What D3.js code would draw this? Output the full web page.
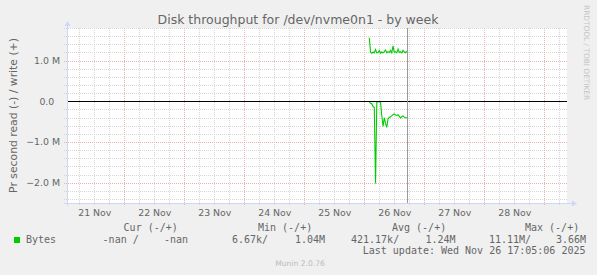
<!DOCTYPE html>
<html>
<head>
<meta charset="utf-8">
<script src="https://cdn.jsdelivr.net/npm/d3@7"></script>
<style>
  body { margin: 0; background: #f0f0f0; }
  svg { display: block; }
  text { fill: #666666; font-family: "DejaVu Sans", sans-serif; }
  .mono { font-family: "DejaVu Sans Mono", monospace; font-size: 10px; }
  .grid-minor { stroke: #d6d6d6; stroke-dasharray: 1,1; shape-rendering: crispEdges; }
  .grid-major { stroke: #ecb2b2; stroke-dasharray: 1,1; shape-rendering: crispEdges; }
  .axis-line { stroke: #cfd6f8; shape-rendering: crispEdges; }
  .series { fill: none; stroke: #00cc00; stroke-width: 1.1; }
</style>
</head>
<body>
<svg id="chart"></svg>
<script>
// DATA
const chartTitle = "Disk throughput for /dev/nvme0n1 - by week";
const yLabel = "Pr second read (-) / write (+)";
const rangeStart = Date.UTC(2025, 10, 21, 1, 5);
const rangeEnd = Date.UTC(2025, 10, 29, 9, 5);
const lastUpdate = Date.UTC(2025, 10, 26, 17, 5, 6);
const sampleStart = Date.UTC(2025, 10, 26, 2, 0);
const sampleStepMinutes = 30;

// bytes per second, one value per 30 minutes
const writeValues = [
  1.56e6, 1.20e6, 1.18e6, 1.21e6, 1.19e6, 1.27e6, 1.19e6, 1.20e6, 1.25e6, 1.18e6,
  1.21e6, 1.19e6, 1.22e6, 1.26e6, 1.19e6, 1.22e6, 1.20e6, 1.25e6, 1.19e6, 1.36e6,
  1.20e6, 1.22e6, 1.19e6, 1.28e6, 1.20e6, 1.22e6, 1.19e6, 1.25e6, 1.21e6, 1.19e6,
  1.23e6
];
const readValues = [
  0.02e6, 0.05e6, 0.06e6, 0.13e6, 0.15e6, 2.02e6, 0.03e6, 0.01e6, 0.01e6, 0.03e6,
  0.35e6, 0.62e6, 0.40e6, 0.55e6, 0.64e6, 0.43e6, 0.40e6, 0.38e6, 0.36e6, 0.33e6,
  0.31e6, 0.34e6, 0.35e6, 0.33e6, 0.37e6, 0.41e6, 0.38e6, 0.36e6, 0.39e6, 0.41e6,
  0.40e6
];

const yTickValues = [-2e6, -1e6, 0, 1e6];
const legendHeaders = ["Cur (-/+)", "Min (-/+)", "Avg (-/+)", "Max (-/+)"];
const legendSeries = "Bytes";
const legendValues = ["-nan /", "-nan", "6.67k/", "1.04M", "421.17k/", "1.24M", "11.11M/", "3.66M"];
const lastUpdateText = "Last update: Wed Nov 26 17:05:06 2025";
const versionText = "Munin 2.0.76";
const watermarkText = "RRDTOOL / TOBI OETIKER";

// GLOBAL DECLARATIONS
let svg;
let plot;
let x;
let y;
const width = 597;
const height = 275;
const plotBox = { left: 67, right: 567, top: 28, bottom: 203 };

setupPage();
drawGrid();
drawSeries();
drawAxes();
drawLegend();

function setupPage(){
  svg = d3.select("#chart")
    .attr("width", width)
    .attr("height", height);

  svg.append("rect")
    .attr("width", width)
    .attr("height", height)
    .attr("fill", "#f0f0f0");

  x = d3.scaleUtc()
    .domain([rangeStart, rangeEnd])
    .range([plotBox.left, plotBox.right]);

  y = d3.scaleLinear()
    .domain([-2.5e6, 1.8e6])
    .range([plotBox.bottom, plotBox.top]);

  svg.append("rect")
    .attr("x", plotBox.left)
    .attr("y", plotBox.top)
    .attr("width", plotBox.right - plotBox.left)
    .attr("height", plotBox.bottom - plotBox.top)
    .attr("fill", "#ffffff");

  plot = svg.append("g");

  svg.append("text")
    .attr("x", 298)
    .attr("y", 24)
    .attr("text-anchor", "middle")
    .style("font-size", "12.5px")
    .text(chartTitle);

  svg.append("text")
    .attr("transform", `translate(17,${(plotBox.top + plotBox.bottom) / 2}) rotate(-90)`)
    .attr("text-anchor", "middle")
    .style("font-size", "10.8px")
    .text(yLabel);

  svg.append("text")
    .attr("transform", "translate(584,5) rotate(90)")
    .style("font-size", "7.4px")
    .style("fill", "#c4c4c4")
    .text(watermarkText);
}

function drawGrid(){
  // vertical: every 6 hours grey, every midnight red
  const sixHours = d3.utcHour.every(6).range(rangeStart, rangeEnd)
    .filter(t => t.getUTCHours() !== 0);
  const midnights = d3.utcDay.range(rangeStart, rangeEnd);

  plot.selectAll(".vminor").data(sixHours).enter()
    .append("line")
    .attr("class", "grid-minor")
    .attr("x1", d => Math.round(x(d)) + 0.5)
    .attr("x2", d => Math.round(x(d)) + 0.5)
    .attr("y1", plotBox.top)
    .attr("y2", plotBox.bottom + 2);

  // horizontal: every 0.2 M grey, every 1 M red
  const minorY = y.ticks(20).filter(v => v % 1e6 !== 0);

  plot.selectAll(".hminor").data(minorY).enter()
    .append("line")
    .attr("class", "grid-minor")
    .attr("x1", plotBox.left - 3)
    .attr("x2", plotBox.right)
    .attr("y1", d => Math.round(y(d)) + 0.5)
    .attr("y2", d => Math.round(y(d)) + 0.5);

  plot.selectAll(".vmajor").data(midnights).enter()
    .append("line")
    .attr("class", "grid-major")
    .attr("x1", d => Math.round(x(d)) + 0.5)
    .attr("x2", d => Math.round(x(d)) + 0.5)
    .attr("y1", plotBox.top)
    .attr("y2", plotBox.bottom + 3);

  plot.selectAll(".hmajor").data(yTickValues.filter(v => v !== 0)).enter()
    .append("line")
    .attr("class", "grid-major")
    .attr("x1", plotBox.left - 3)
    .attr("x2", plotBox.right)
    .attr("y1", d => Math.round(y(d)) + 0.5)
    .attr("y2", d => Math.round(y(d)) + 0.5);
}

function drawSeries(){
  const sampleTime = i => new Date(sampleStart + i * sampleStepMinutes * 60000);

  const line = d3.line()
    .x((d, i) => x(sampleTime(i)))
    .y(d => y(d));

  plot.append("path")
    .datum(writeValues)
    .attr("class", "series")
    .attr("d", line);

  plot.append("path")
    .datum(readValues.map(v => -v))
    .attr("class", "series")
    .attr("d", line);

  // zero line
  plot.append("line")
    .attr("x1", plotBox.left)
    .attr("x2", plotBox.right)
    .attr("y1", Math.round(y(0)) + 0.5)
    .attr("y2", Math.round(y(0)) + 0.5)
    .attr("stroke", "#000")
    .style("shape-rendering", "crispEdges");

  // "now" marker
  plot.append("line")
    .attr("x1", Math.round(x(lastUpdate)) + 0.5)
    .attr("x2", Math.round(x(lastUpdate)) + 0.5)
    .attr("y1", plotBox.top)
    .attr("y2", plotBox.bottom)
    .attr("stroke", "#999999")
    .style("shape-rendering", "crispEdges");
}

function drawAxes(){
  const fmt = v => v === 0 ? "0.0" : d3.format(".1f")(v / 1e6) + " M";

  const yAxis = svg.append("g")
    .attr("transform", `translate(${plotBox.left},0)`)
    .call(d3.axisLeft(y).tickValues(yTickValues).tickSize(0).tickPadding(7).tickFormat(fmt));
  yAxis.select(".domain").remove();
  yAxis.selectAll("text")
    .attr("font-family", null)
    .style("font-size", "9.4px")
    .attr("dx", d => d === 0 ? -5.7 : 0);

  const noons = d3.utcDay.range(d3.utcDay.floor(new Date(rangeStart)), rangeEnd)
    .map(d => d3.utcHour.offset(d, 12))
    .filter(d => d >= rangeStart && d <= rangeEnd);

  const xAxis = svg.append("g")
    .attr("transform", `translate(0,${plotBox.bottom})`)
    .call(d3.axisBottom(x).tickValues(noons).tickSize(0).tickPadding(6.4).tickFormat(d3.utcFormat("%d %b")));
  xAxis.select(".domain").remove();
  xAxis.selectAll("text")
    .attr("font-family", null)
    .style("font-size", "9.4px");

  // axis lines with arrows
  svg.append("line")
    .attr("class", "axis-line")
    .attr("x1", plotBox.left - 3).attr("x2", plotBox.right + 6)
    .attr("y1", plotBox.bottom + 0.5).attr("y2", plotBox.bottom + 0.5);
  svg.append("line")
    .attr("class", "axis-line")
    .attr("x1", plotBox.left + 0.5).attr("x2", plotBox.left + 0.5)
    .attr("y1", plotBox.bottom + 3).attr("y2", plotBox.top - 4);

  svg.append("path")
    .attr("d", `M${plotBox.right + 10},${plotBox.bottom + 0.5} l-5,-3 v6 z`)
    .attr("fill", "#cfd6f8");
  svg.append("path")
    .attr("d", `M${plotBox.left + 0.5},${plotBox.top - 7} l-3,5 h6 z`)
    .attr("fill", "#cfd6f8");
}

function drawLegend(){
  const headerX = [123.6, 258, 392, 525];
  svg.selectAll(".legend-header").data(legendHeaders).enter()
    .append("text")
    .attr("class", "mono")
    .attr("x", (d, i) => headerX[i])
    .attr("y", 230.7)
    .text(d => d);

  svg.append("rect")
    .attr("x", 14).attr("y", 237)
    .attr("width", 6).attr("height", 6)
    .attr("fill", "#00cc00");

  svg.append("text")
    .attr("class", "mono")
    .attr("x", 26)
    .attr("y", 242.7)
    .text(legendSeries);

  const valueX = [102.6, 164, 232, 295, 351, 425.5, 489, 556];
  svg.selectAll(".legend-value").data(legendValues).enter()
    .append("text")
    .attr("class", "mono")
    .attr("x", (d, i) => valueX[i])
    .attr("y", 242.7)
    .text(d => d);

  svg.append("text")
    .attr("class", "mono")
    .attr("x", 585.5)
    .attr("y", 254.3)
    .attr("text-anchor", "end")
    .text(lastUpdateText);

  svg.append("text")
    .attr("x", 300)
    .attr("y", 266)
    .attr("text-anchor", "middle")
    .style("font-size", "7.6px")
    .style("fill", "#bbbbbb")
    .text(versionText);
}
</script>
</body>
</html>
